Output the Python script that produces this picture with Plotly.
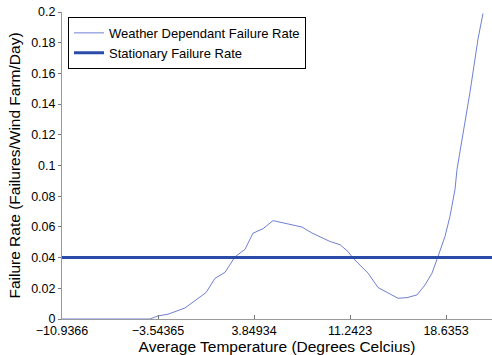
import plotly.graph_objects as go

# Weather dependant failure rate curve
temps = [-10.937, -4.160, -3.544, -2.774, -1.464, -0.618, 0.153, 0.846, 1.616, 2.386,
         3.156, 3.772, 4.542, 5.312, 6.083, 7.546, 8.316, 9.702, 10.472, 11.088,
         11.473, 12.012, 12.629, 13.399, 14.092, 14.939, 15.632, 16.402, 17.018, 17.557,
         18.019, 18.558, 18.943, 19.328, 19.482, 20.483, 21.100, 21.484]
rates = [0.0, 0.0, 0.0020, 0.0031, 0.0072, 0.0127, 0.0172, 0.0265, 0.0304, 0.0405,
         0.0454, 0.0559, 0.0588, 0.0641, 0.0625, 0.0599, 0.0560, 0.0505, 0.0484, 0.0440,
         0.0397, 0.0353, 0.0299, 0.0205, 0.0172, 0.0135, 0.0139, 0.0157, 0.0222, 0.0299,
         0.0407, 0.0538, 0.0669, 0.0843, 0.0974, 0.1477, 0.1824, 0.1990]

stationary_rate = 0.04
x_range = [-10.9366, 22.178]

x_tick_vals = [-10.9366, -3.54365, 3.84934, 11.2423, 18.6353]
x_tick_text = ["\u221210.9366", "\u22123.54365", "3.84934", "11.2423", "18.6353"]

font_family = "Liberation Sans, Arial, Helvetica, sans-serif"

fig = go.Figure()
fig.add_trace(go.Scatter(
    x=temps, y=rates, mode="lines",
    name="Weather Dependant Failure Rate",
    line=dict(color="#6f80d4", width=1),
    cliponaxis=False,
))
fig.add_trace(go.Scatter(
    x=x_range, y=[stationary_rate, stationary_rate], mode="lines",
    name="Stationary Failure Rate",
    line=dict(color="#2b4ba8", width=3),
))

fig.update_layout(
    width=492, height=355,
    margin=dict(l=62, r=0, t=12, b=36, autoexpand=False),
    paper_bgcolor="white", plot_bgcolor="white",
    font=dict(family=font_family, color="black", size=12.5),
    showlegend=True,
    legend=dict(
        x=0.014, y=0.984, xanchor="left", yanchor="top",
        bgcolor="white", bordercolor="black", borderwidth=1,
        font=dict(size=13, family=font_family),
        itemwidth=30, tracegroupgap=0,
    ),
    xaxis=dict(
        range=x_range, tickvals=x_tick_vals, ticktext=x_tick_text, automargin=False,
        showgrid=False, zeroline=False, showline=True, linecolor="#9a9a9a", linewidth=1,
        ticks="inside", ticklen=4, tickcolor="#777777", ticklabeloverflow="allow",
        title=dict(text="Average Temperature (Degrees Celcius)", font=dict(size=15.5), standoff=1),
    ),
    yaxis=dict(
        range=[0, 0.2], dtick=0.02, tick0=0, automargin=False,
        showgrid=False, zeroline=False, showline=True, linecolor="#9a9a9a", linewidth=1,
        ticks="outside", ticklen=3, tickcolor="#777777", ticklabeloverflow="allow",
        title=dict(text="Failure Rate (Failures/Wind Farm/Day)", font=dict(size=15.5), standoff=6),
    ),
)

# remove the default page margin so the figure fills the window exactly
fig.write_html("out.html", config={"displayModeBar": False},
               post_script="document.body.style.margin='0';")
